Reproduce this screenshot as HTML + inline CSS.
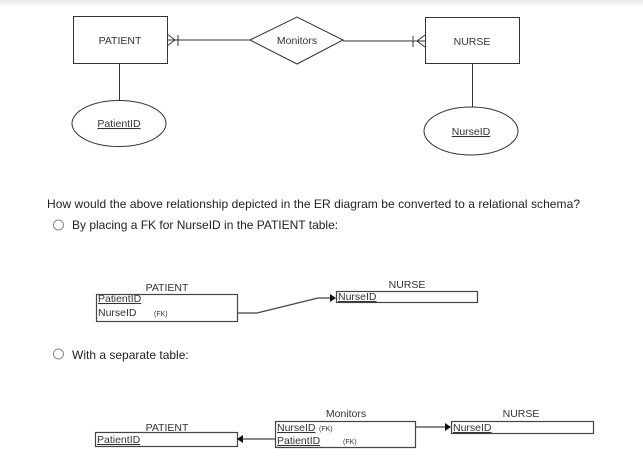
<!DOCTYPE html>
<html><head><style>
html,body{margin:0;padding:0;background:#fff;}
svg{display:block;font-family:"Liberation Sans",Arial,sans-serif;}
</style></head><body>
<svg width="643" height="467" viewBox="0 0 643 467" xmlns="http://www.w3.org/2000/svg">
<defs><linearGradient id="g" x1="0" y1="0" x2="0" y2="1"><stop offset="0" stop-color="#e6e6e6"/><stop offset="1" stop-color="#fff"/></linearGradient></defs>
<rect x="0" y="0" width="643" height="6" fill="url(#g)"/>
<g stroke="#333" stroke-width="1" fill="none">
<rect x="73.5" y="16.5" width="94" height="47"/>
<rect x="425.5" y="17.5" width="94" height="46"/>
<polygon points="250,40 297,17 343,40 297,64"/>
<line x1="167" y1="40" x2="250" y2="40"/>
<line x1="343" y1="41" x2="425" y2="41"/>
<polyline points="167,34 175,40 167,46"/>
<line x1="178" y1="35" x2="178" y2="46"/>
<polyline points="425,35 417,41 425,47"/>
<line x1="413" y1="36" x2="413" y2="47"/>
<line x1="119.5" y1="63" x2="119.5" y2="101"/>
<line x1="472.5" y1="63" x2="472.5" y2="107"/>
<ellipse cx="119" cy="123.5" rx="47" ry="23"/>
<ellipse cx="471" cy="131" rx="47" ry="24"/>
</g>
<g font-size="10.5" fill="#333" text-anchor="middle">
<text x="120" y="44">PATIENT</text>
<text x="472" y="45">NURSE</text>
<text x="297" y="44">Monitors</text>
<text x="119" y="127" text-decoration="underline">PatientID</text>
<text x="471" y="135" text-decoration="underline">NurseID</text>
</g>
<g font-size="12" fill="#222">
<text x="47" y="208" textLength="533">How would the above relationship depicted in the ER diagram be converted to a relational schema?</text>
<text x="72" y="229">By placing a FK for NurseID in the PATIENT table:</text>
<text x="72" y="359">With a separate table:</text>
</g>
<circle cx="58.5" cy="225" r="5" fill="none" stroke="#888"/>
<circle cx="58.5" cy="354" r="5" fill="none" stroke="#888"/>

<g stroke="#444" fill="none" stroke-width="1.2">
<rect x="96.5" y="294.5" width="141" height="27"/>
<rect x="336.5" y="291.5" width="141" height="11"/>
<polyline points="237,313 257,313 318,298 334,298"/>
<rect x="95.5" y="432.5" width="142" height="14"/>
<rect x="275.5" y="421.5" width="140" height="26"/>
<rect x="451.5" y="421.5" width="142" height="12"/>
<line x1="238" y1="439" x2="275" y2="439"/>
<line x1="415" y1="427" x2="448" y2="427"/>
</g>
<g fill="#111">
<polygon points="336,298 330,294 330,302"/>
<polygon points="237,439 243,435 243,443"/>
<polygon points="451,427 445,423 445,431"/>
</g>
<g font-size="10.5" fill="#333">
<text x="167" y="291" text-anchor="middle">PATIENT</text>
<text x="407" y="288" text-anchor="middle">NURSE</text>
<text x="98" y="302" text-decoration="underline">PatientID</text>
<text x="98" y="316">NurseID</text>
<text x="154" y="316" font-size="7">(FK)</text>
<text x="338" y="300" text-decoration="underline">NurseID</text>
<text x="167" y="431" text-anchor="middle">PATIENT</text>
<text x="346" y="417" text-anchor="middle">Monitors</text>
<text x="521" y="417" text-anchor="middle">NURSE</text>
<text x="97" y="443" text-decoration="underline">PatientID</text>
<text x="277" y="431" text-decoration="underline">NurseID</text>
<text x="319" y="431" font-size="7">(FK)</text>
<text x="277" y="444" text-decoration="underline">PatientID</text>
<text x="343" y="444" font-size="7">(FK)</text>
<text x="453" y="431" text-decoration="underline">NurseID</text>
</g>
</svg>
</body></html>
